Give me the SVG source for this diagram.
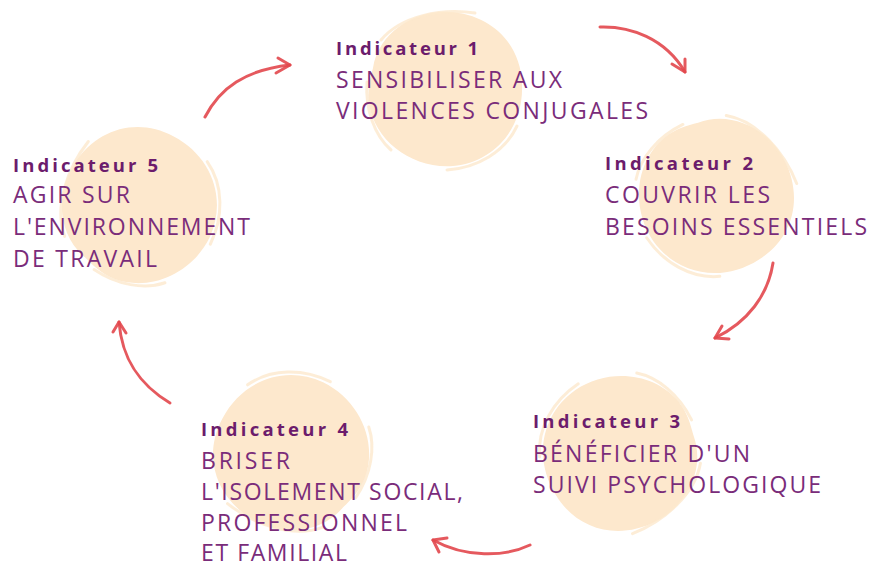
<svg xmlns="http://www.w3.org/2000/svg" xmlns:xlink="http://www.w3.org/1999/xlink" width="870" height="567" viewBox="0 0 870 567">
<style>
.blob{fill:#fde8cd}
.streak{fill:none;stroke:#fde8cd;stroke-width:3;stroke-linecap:round;opacity:0.8}
.title{font-family:"Open Sans","Liberation Sans",sans-serif;font-weight:700;font-size:18.5px;fill:#6c1c6c}
.body{font-family:"Open Sans","Liberation Sans",sans-serif;font-size:23px;fill:#7a2c7a}
.arrow{fill:none;stroke:#e2474d;stroke-width:3;stroke-linecap:round;stroke-linejoin:round;opacity:0.9}
</style>
<defs>
<g id="blobShape">
<path class="blob" d="M -72,-22 C -66,-58 -30,-80 4,-78 C 46,-76 76,-46 77,-6 C 79,37 50,72 8,76 C -33,79 -70,51 -76,14 C -78,0 -75,-11 -72,-22 Z"/>
<path class="streak" d="M -64,-50 C -44,-74 -4,-82 30,-77"/>
<path class="streak" d="M 72,36 C 60,62 32,78 2,80"/>
<path class="streak" d="M -78,-8 C -80,20 -70,46 -54,60"/>
</g>
</defs>

<g id="node1">
<use xlink:href="#blobShape" transform="translate(445,90)"/>
<text class="title" x="336" y="55" textLength="142" lengthAdjust="spacing">Indicateur 1</text>
<text class="body" x="336" y="88" textLength="226" lengthAdjust="spacing">SENSIBILISER AUX</text>
<text class="body" x="336" y="119" textLength="312" lengthAdjust="spacing">VIOLENCES CONJUGALES</text>
</g>

<g id="node2">
<use xlink:href="#blobShape" transform="translate(715,196) rotate(60)"/>
<text class="title" x="605" y="170" textLength="148" lengthAdjust="spacing">Indicateur 2</text>
<text class="body" x="605" y="203" textLength="165" lengthAdjust="spacing">COUVRIR LES</text>
<text class="body" x="605" y="235" textLength="262" lengthAdjust="spacing">BESOINS ESSENTIELS</text>
</g>

<g id="node3">
<use xlink:href="#blobShape" transform="translate(620,452) rotate(150)"/>
<text class="title" x="533" y="428" textLength="147" lengthAdjust="spacing">Indicateur 3</text>
<text class="body" x="533" y="462" textLength="217" lengthAdjust="spacing">BÉNÉFICIER D'UN</text>
<text class="body" x="533" y="493" textLength="288" lengthAdjust="spacing">SUIVI PSYCHOLOGIQUE</text>
</g>

<g id="node4">
<use xlink:href="#blobShape" transform="translate(292,452) rotate(210)"/>
<text class="title" x="201" y="436" textLength="147" lengthAdjust="spacing">Indicateur 4</text>
<text class="body" x="201" y="469" textLength="89" lengthAdjust="spacing">BRISER</text>
<text class="body" x="201" y="500" textLength="262" lengthAdjust="spacing">L'ISOLEMENT SOCIAL,</text>
<text class="body" x="201" y="531" textLength="206" lengthAdjust="spacing">PROFESSIONNEL</text>
<text class="body" x="201" y="561" textLength="146" lengthAdjust="spacing">ET FAMILIAL</text>
</g>

<g id="node5">
<use xlink:href="#blobShape" transform="translate(140,206) rotate(300)"/>
<text class="title" x="13" y="172" textLength="145" lengthAdjust="spacing">Indicateur 5</text>
<text class="body" x="13" y="203" textLength="117" lengthAdjust="spacing">AGIR SUR</text>
<text class="body" x="13" y="235" textLength="237" lengthAdjust="spacing">L'ENVIRONNEMENT</text>
<text class="body" x="13" y="267" textLength="144" lengthAdjust="spacing">DE TRAVAIL</text>
</g>

<g id="connectors">
<path class="arrow" d="M 600,27 C 630,26 665,38 685,72"/>
<path class="arrow" d="M 672,64 L 685,72 L 685,59"/>
<path class="arrow" d="M 773,263 C 768,295 748,322 715,338"/>
<path class="arrow" d="M 722,326 L 715,338 L 729,339"/>
<path class="arrow" d="M 530,545 C 505,557 465,558 433,540"/>
<path class="arrow" d="M 447,538 L 433,540 L 439,552"/>
<path class="arrow" d="M 170,403 C 140,385 122,360 119,322"/>
<path class="arrow" d="M 113,332 L 119,322 L 126,333"/>
<path class="arrow" d="M 205,117 C 220,88 245,70 290,65"/>
<path class="arrow" d="M 278,58 L 290,65 L 276,73"/>
</g>
</svg>
